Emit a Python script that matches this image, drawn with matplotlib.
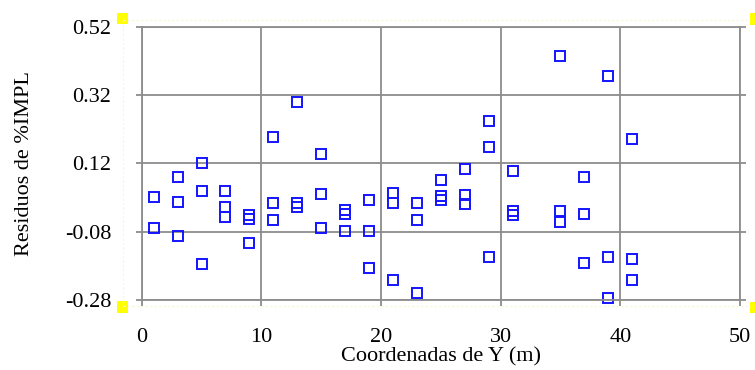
import matplotlib
matplotlib.use('Agg')
import matplotlib.pyplot as plt
from matplotlib.patches import Rectangle
from matplotlib.lines import Line2D

# coordenadas Y (m) y residuos
x = [1, 1,
     3, 3, 3,
     5, 5, 5,
     7, 7, 7,
     9, 9, 9,
     11, 11, 11,
     13, 13, 13,
     15, 15, 15,
     17, 17, 17,
     19, 19, 19,
     21, 21, 21,
     23, 23, 23,
     25, 25, 25,
     27, 27, 27,
     29, 29, 29,
     31, 31, 31,
     35, 35, 35,
     37, 37, 37,
     39, 39, 39,
     41, 41, 41]
residuos = [0.021, -0.068,
            0.079, 0.007, -0.092,
            0.120, 0.039, -0.176,
            0.039, -0.009, -0.036,
            -0.032, -0.044, -0.113,
            0.196, 0.003, -0.046,
            0.299, 0.003, -0.009,
            0.147, 0.030, -0.068,
            -0.017, -0.028, -0.077,
            0.013, -0.077, -0.185,
            0.033, 0.003, -0.221,
            0.003, -0.046, -0.260,
            0.070, 0.024, 0.013,
            0.103, 0.027, 0.002,
            0.245, 0.169, -0.153,
            0.098, -0.019, -0.030,
            0.433, -0.020, -0.051,
            0.080, -0.028, -0.171,
            0.376, -0.153, -0.275,
            0.191, -0.159, -0.221]

xticks = [0, 10, 20, 30, 40, 50]
yticks = [-0.28, -0.08, 0.12, 0.32, 0.52]
ytick_labels = ['-0.28', '-0.08', '0.12', '0.32', '0.52']

gris = '#8c8c8c'
azul = '#1414ff'
fuente = 'Liberation Serif'
fs = 16

fig = plt.figure(figsize=(7.55, 3.7), dpi=100)
ax = fig.add_axes([0.1877, 0.1892, 0.7923, 0.7386])

ax.plot(x, residuos, 's', ms=6.5, mfc='none', mec=azul, mew=1.4, clip_on=False)

ax.set_xlim(0, 50)
ax.set_ylim(-0.28, 0.52)
ax.set_xticks(xticks)
ax.set_yticks(yticks)
ax.set_xticklabels([str(t) for t in xticks], fontfamily=fuente, fontsize=fs)
ax.set_yticklabels(ytick_labels, fontfamily=fuente, fontsize=fs)
ax.grid(True, color=gris, lw=1.3)
ax.set_axisbelow(True)
for s in ax.spines.values():
    s.set_color(gris)
    s.set_linewidth(1.3)
ax.tick_params(axis='both', direction='out', length=4, width=1.3, color=gris)
ax.tick_params(axis='y', right=True, pad=18)
ax.tick_params(axis='x', pad=16)

ax.set_xlabel('Coordenadas de Y (m)', fontfamily=fuente, fontsize=fs, labelpad=0)
ax.set_ylabel('Residuos de %IMPL', fontfamily=fuente, fontsize=fs)
ax.yaxis.set_label_coords(-0.180, 0.5)

# marco de seleccion amarillo alrededor del grafico
W, H = 755, 370
for (x0, y0, x1, y1) in [(123, 20, 750, 20), (123, 306, 750, 306), (123, 20, 123, 306)]:
    fig.add_artist(Line2D([x0 / W, x1 / W], [1 - y0 / H, 1 - y1 / H],
                          color='#f6f6d0', lw=0.8, ls=(0, (2, 2))))
for (px, py, w, h) in [(117, 13, 11, 11), (117, 301, 11, 12), (750, 13, 6, 12), (750, 302, 6, 11)]:
    fig.add_artist(Rectangle((px / W, 1 - (py + h) / H), w / W, h / H,
                             transform=fig.transFigure, color='#ffff00', lw=0))

fig.savefig('out.png', dpi=100)
